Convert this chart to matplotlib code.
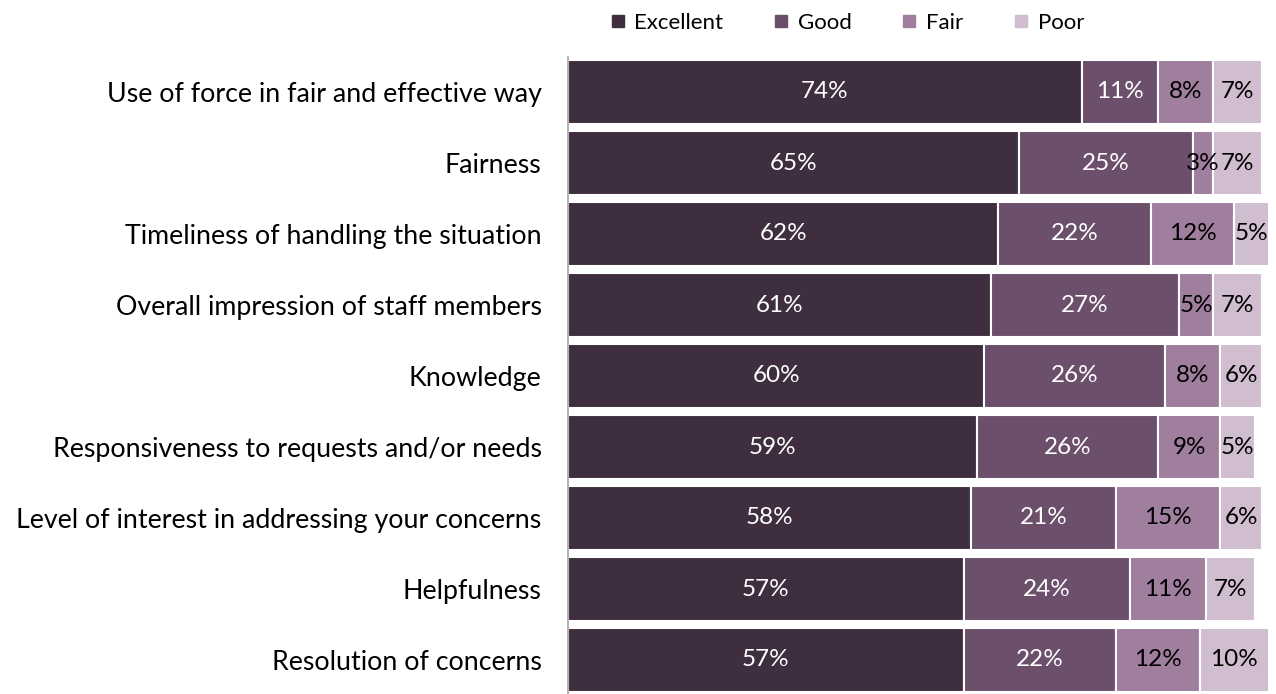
import matplotlib.pyplot as plt
from matplotlib.lines import Line2D

plt.rcParams["font.family"] = ["Lato", "DejaVu Sans"]

categories = [
    "Use of force in fair and effective way",
    "Fairness",
    "Timeliness of handling the situation",
    "Overall impression of staff members",
    "Knowledge",
    "Responsiveness to requests and/or needs",
    "Level of interest in addressing your concerns",
    "Helpfulness",
    "Resolution of concerns",
]
excellent = [74, 65, 62, 61, 60, 59, 58, 57, 57]
good = [11, 25, 22, 27, 26, 26, 21, 24, 22]
fair = [8, 3, 12, 5, 8, 9, 15, 11, 12]
poor = [7, 7, 5, 7, 6, 5, 6, 7, 10]

series = [("Excellent", excellent), ("Good", good), ("Fair", fair), ("Poor", poor)]
colors = ["#3f2e3f", "#6b4f6b", "#a07e9e", "#d1bdd0"]
text_colors = ["white", "white", "black", "black"]

fig = plt.figure(figsize=(12.76, 6.94), dpi=100)
ax = fig.add_axes([568 / 1276, -1.5 / 694, (1262 - 568) / 1276, 639 / 694])

y = list(range(len(categories)))
left = [0] * len(categories)
for (name, vals), c, tc in zip(series, colors, text_colors):
    ax.barh(y, vals, left=left, height=0.9, color=c, edgecolor="white",
            linewidth=1.5, clip_on=False, label=name)
    for yi, l, v in zip(y, left, vals):
        ax.text(l + v / 2, yi, f"{v}%", ha="center", va="center", color=tc,
                fontsize=17.5, clip_on=False)
    left = [a + b for a, b in zip(left, vals)]

ax.set_xlim(0, 100)
ax.set_ylim(len(categories) - 0.5, -0.5)
ax.set_yticks(y)
ax.set_yticklabels(categories, fontsize=19.3)
ax.tick_params(axis="y", length=0, pad=19)
ax.set_xticks([])
for s in ["top", "right", "bottom"]:
    ax.spines[s].set_visible(False)
ax.spines["left"].set_color("#a6a6a6")
ax.spines["left"].set_linewidth(1.2)

handles = [Line2D([], [], marker="s", linestyle="none", markersize=8,
                  markerfacecolor=c, markeredgecolor=c) for c in colors]
fig.legend(handles, [s[0] for s in series], loc="center left",
           bbox_to_anchor=(611 / 1276, 1 - 23 / 694), ncol=4, frameon=False,
           fontsize=16, handlelength=0.6, handletextpad=0.45, columnspacing=2.3,
           borderpad=0, borderaxespad=0)

fig.savefig("out.png", dpi=100)
